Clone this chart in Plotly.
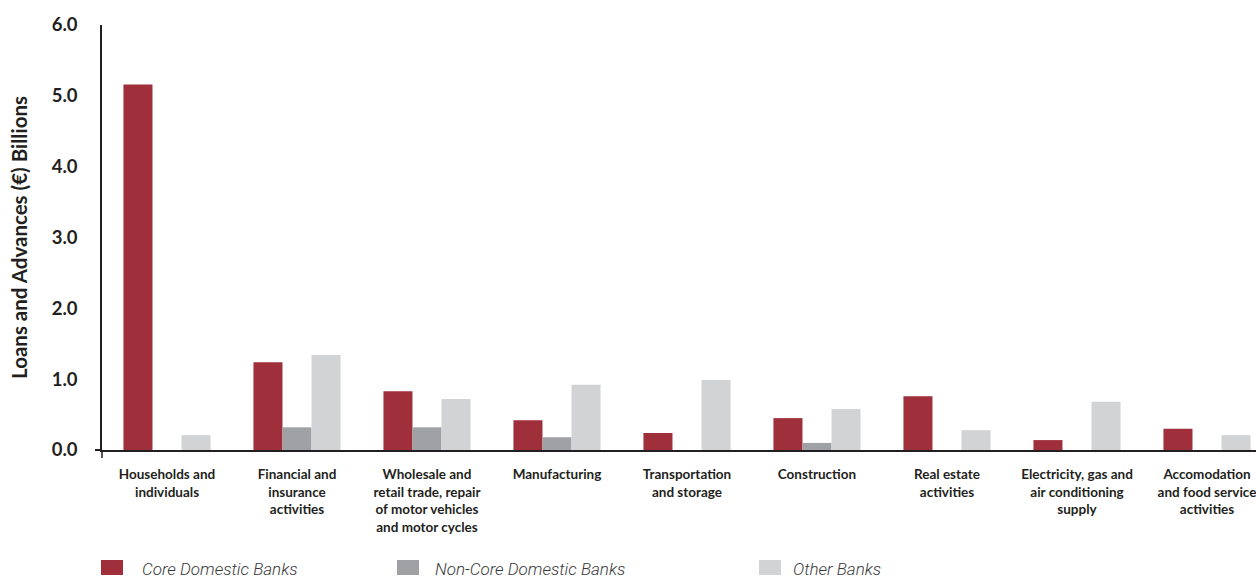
import plotly.graph_objects as go

categories = [
    "Households and<br>individuals",
    "Financial and<br>insurance<br>activities",
    "Wholesale and<br>retail trade, repair<br>of motor vehicles<br>and motor cycles",
    "Manufacturing",
    "Transportation<br>and storage",
    "Construction",
    "Real estate<br>activities",
    "Electricity, gas and<br>air conditioning<br>supply",
    "Accomodation<br>and food service<br>activities",
]
series_names = ["Core Domestic Banks", "Non-Core Domestic Banks", "Other Banks"]
core = [5.16, 1.24, 0.83, 0.42, 0.24, 0.45, 0.76, 0.14, 0.30]
non_core = [0, 0.32, 0.32, 0.18, 0, 0.10, 0, 0, 0]
other = [0.21, 1.34, 0.72, 0.92, 0.99, 0.58, 0.28, 0.68, 0.21]
y_ticks = [0, 1, 2, 3, 4, 5, 6]
y_tick_labels = ["0.0", "1.0", "2.0", "3.0", "4.0", "5.0", "6.0"]

colors = ["#9e2f3b", "#a0a1a5", "#d2d3d5"]
values = [core, non_core, other]

W, H = 1256, 578
ml, mr, mt, mb = 102, 0, 25, 128
pw = W - ml - mr
ph = H - mt - mb
cat_px = 130.0

def px_to_paper_x(px):
    return (px - ml) / pw

def px_to_paper_y(py):
    return (H - mb - py) / ph

fig = go.Figure()
for name, vals, col in zip(series_names, values, colors):
    fig.add_trace(go.Bar(
        x=list(range(len(categories))), y=vals, name=name,
        marker=dict(color=col, line=dict(width=0)),
        showlegend=False,
    ))

fig.update_layout(
    width=W, height=H,
    margin=dict(l=ml, r=mr, t=mt, b=mb, pad=0, autoexpand=False),
    plot_bgcolor="white", paper_bgcolor="white",
    barmode="group", bargap=0.33, bargroupgap=0,
    font=dict(family="Lato", color="#231f20"),
    xaxis=dict(
        range=[-0.5, -0.5 + pw / cat_px],
        tickmode="array", tickvals=list(range(len(categories))), ticktext=categories,
        tickfont=dict(family="Lato", size=13.5, color="#231f20", weight="bold"),
        showline=True, linecolor="#231f20", linewidth=2,
        ticks="", ticklabelstandoff=11, ticklabeloverflow="allow",
        showgrid=False, zeroline=False,
    ),
    yaxis=dict(
        range=[0, 6],
        tickmode="array", tickvals=y_ticks, ticktext=y_tick_labels,
        tickfont=dict(family="Lato", size=18.5, color="#231f20", weight="bold"),
        showline=True, linecolor="#231f20", linewidth=1.5,
        ticks="", ticklabelstandoff=19,
        showgrid=False, zeroline=False,
        title=dict(text="Loans and Advances (€) Billions",
                   font=dict(family="Lato", size=20.5, color="#231f20", weight="bold"),
                   standoff=19),
    ),
)

# small axis-corner extensions as in the reference
fig.add_shape(type="line", xref="paper", yref="paper",
              x0=px_to_paper_x(95), x1=0, y0=0, y1=0,
              line=dict(color="#231f20", width=2))
fig.add_shape(type="line", xref="paper", yref="paper",
              x0=0, x1=0, y0=0, y1=px_to_paper_y(458),
              line=dict(color="#231f20", width=1.5))

# legend drawn as swatches + labels
swatch_x = [101, 397, 759]
label_x = [140, 433, 791]
for name, col, sx, lx in zip(series_names, colors, swatch_x, label_x):
    fig.add_shape(type="rect", xref="paper", yref="paper",
                  x0=px_to_paper_x(sx), x1=px_to_paper_x(sx + 22),
                  y0=px_to_paper_y(575), y1=px_to_paper_y(560),
                  fillcolor=col, line=dict(width=0))
    fig.add_annotation(xref="paper", yref="paper",
                       x=px_to_paper_x(lx), y=px_to_paper_y(569),
                       xanchor="left", yanchor="middle", showarrow=False,
                       text=name,
                       font=dict(family="Roboto", size=17, color="#3a3a3a",
                                 style="italic", weight=300))

fig.write_html("out.html",
               config={"displayModeBar": False},
               post_script="document.body.style.margin='0';document.body.style.overflow='hidden';")
